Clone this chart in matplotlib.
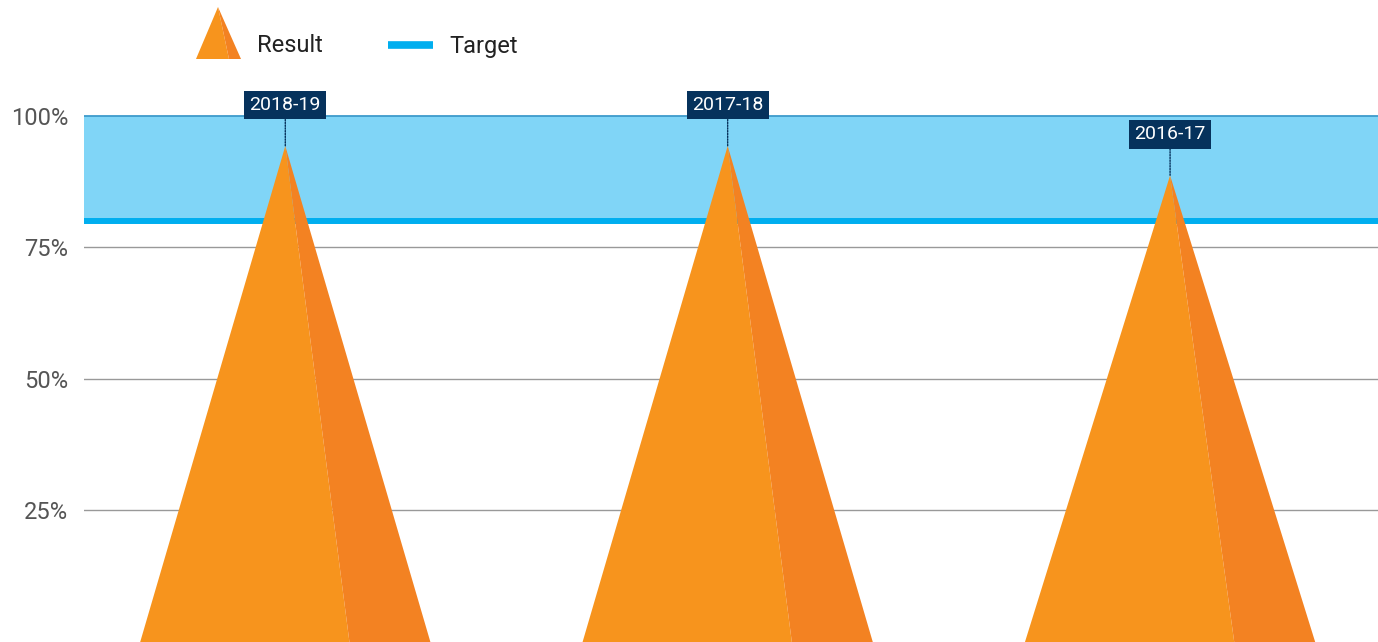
import matplotlib
matplotlib.use("Agg")
import matplotlib.pyplot as plt
from matplotlib.patches import Polygon
from matplotlib import font_manager

# --- data -------------------------------------------------------------
periods = ["2018-19", "2017-18", "2016-17"]
results = [94.3, 94.3, 88.7]
target = 80
target_ceiling = 100
yticks = [25, 50, 75, 100]
ytick_labels = ["25%", "50%", "75%", "100%"]

# --- style ------------------------------------------------------------
installed = {f.name for f in font_manager.fontManager.ttflist}
main_font = "Liberation Sans Narrow" if "Liberation Sans Narrow" in installed else "Roboto"
plt.rcParams["font.family"] = [main_font, "DejaVu Sans"]

ORANGE_LIGHT = "#F7941D"
ORANGE_DARK = "#F38222"
BAND = "#80D5F7"
TARGET_BLUE = "#00AEEF"
CEILING_BLUE = "#3E9BCB"
NAVY = "#06325C"
GRID = "#999999"
TEXT = "#555555"

W, H = 1378, 642
fig = plt.figure(figsize=(W / 100, H / 100), dpi=100)
ax = fig.add_axes([84 / W, 0, 1 - 84 / W, 1])
ax.set_xlim(-0.455, 2.47)
ax.set_ylim(0, 122.05)

for s in ax.spines.values():
    s.set_visible(False)
ax.set_xticks([])
ax.set_yticks(yticks)
ax.set_yticklabels(ytick_labels)
ax.tick_params(axis="y", length=0, pad=11.5, labelsize=17, labelcolor=TEXT)

# gridlines
for t in yticks[:-1]:
    ax.axhline(t, color=GRID, lw=1.0, zorder=1)

# target band
ax.axhspan(target, target_ceiling, color=BAND, lw=0, zorder=1)
ax.axhline(target_ceiling, color=CEILING_BLUE, lw=1.3, zorder=2)
ax.axhline(target, color=TARGET_BLUE, lw=4.3, zorder=2)

# pyramids
half_base = 0.328
split = 0.145
for i, (label, v) in enumerate(zip(periods, results)):
    left = Polygon([(i, v), (i - half_base, 0), (i + split, 0)],
                   closed=True, fc=ORANGE_LIGHT, ec="none", zorder=3)
    right = Polygon([(i, v), (i + split, 0), (i + half_base, 0)],
                    closed=True, fc=ORANGE_DARK, ec="none", zorder=3)
    ax.add_patch(left)
    ax.add_patch(right)
    ax.annotate(label, xy=(i, v), xytext=(0, 29.5), textcoords="offset points",
                ha="center", va="center", color="white", fontsize=14, zorder=5,
                bbox=dict(boxstyle="square,pad=0.28", fc=NAVY, ec="none"),
                arrowprops=dict(arrowstyle="-", color=NAVY, lw=1.0, linestyle=(0, (1, 1)),
                                shrinkA=0, shrinkB=0),
                annotation_clip=False)


# legend (figure pixel coordinates, origin top-left)
def px(x, y):
    return (x / W, 1 - y / H)


fig.patches.append(Polygon([px(218, 7), px(196, 59), px(229, 59)], closed=True,
                           fc=ORANGE_LIGHT, ec="none", transform=fig.transFigure))
fig.patches.append(Polygon([px(218, 7), px(229, 59), px(241, 59)], closed=True,
                           fc=ORANGE_DARK, ec="none", transform=fig.transFigure))
fig.text(*px(257, 46), "Result", ha="left", va="center", fontsize=17, color="#222222")
fig.lines.append(plt.Line2D([388 / W, 433 / W], [1 - 45 / H, 1 - 45 / H],
                            color=TARGET_BLUE, lw=5.5, solid_capstyle="butt",
                            transform=fig.transFigure))
fig.text(*px(449, 46), "Target", ha="left", va="center", fontsize=17, color="#222222")

fig.savefig("out.png", dpi=100)
